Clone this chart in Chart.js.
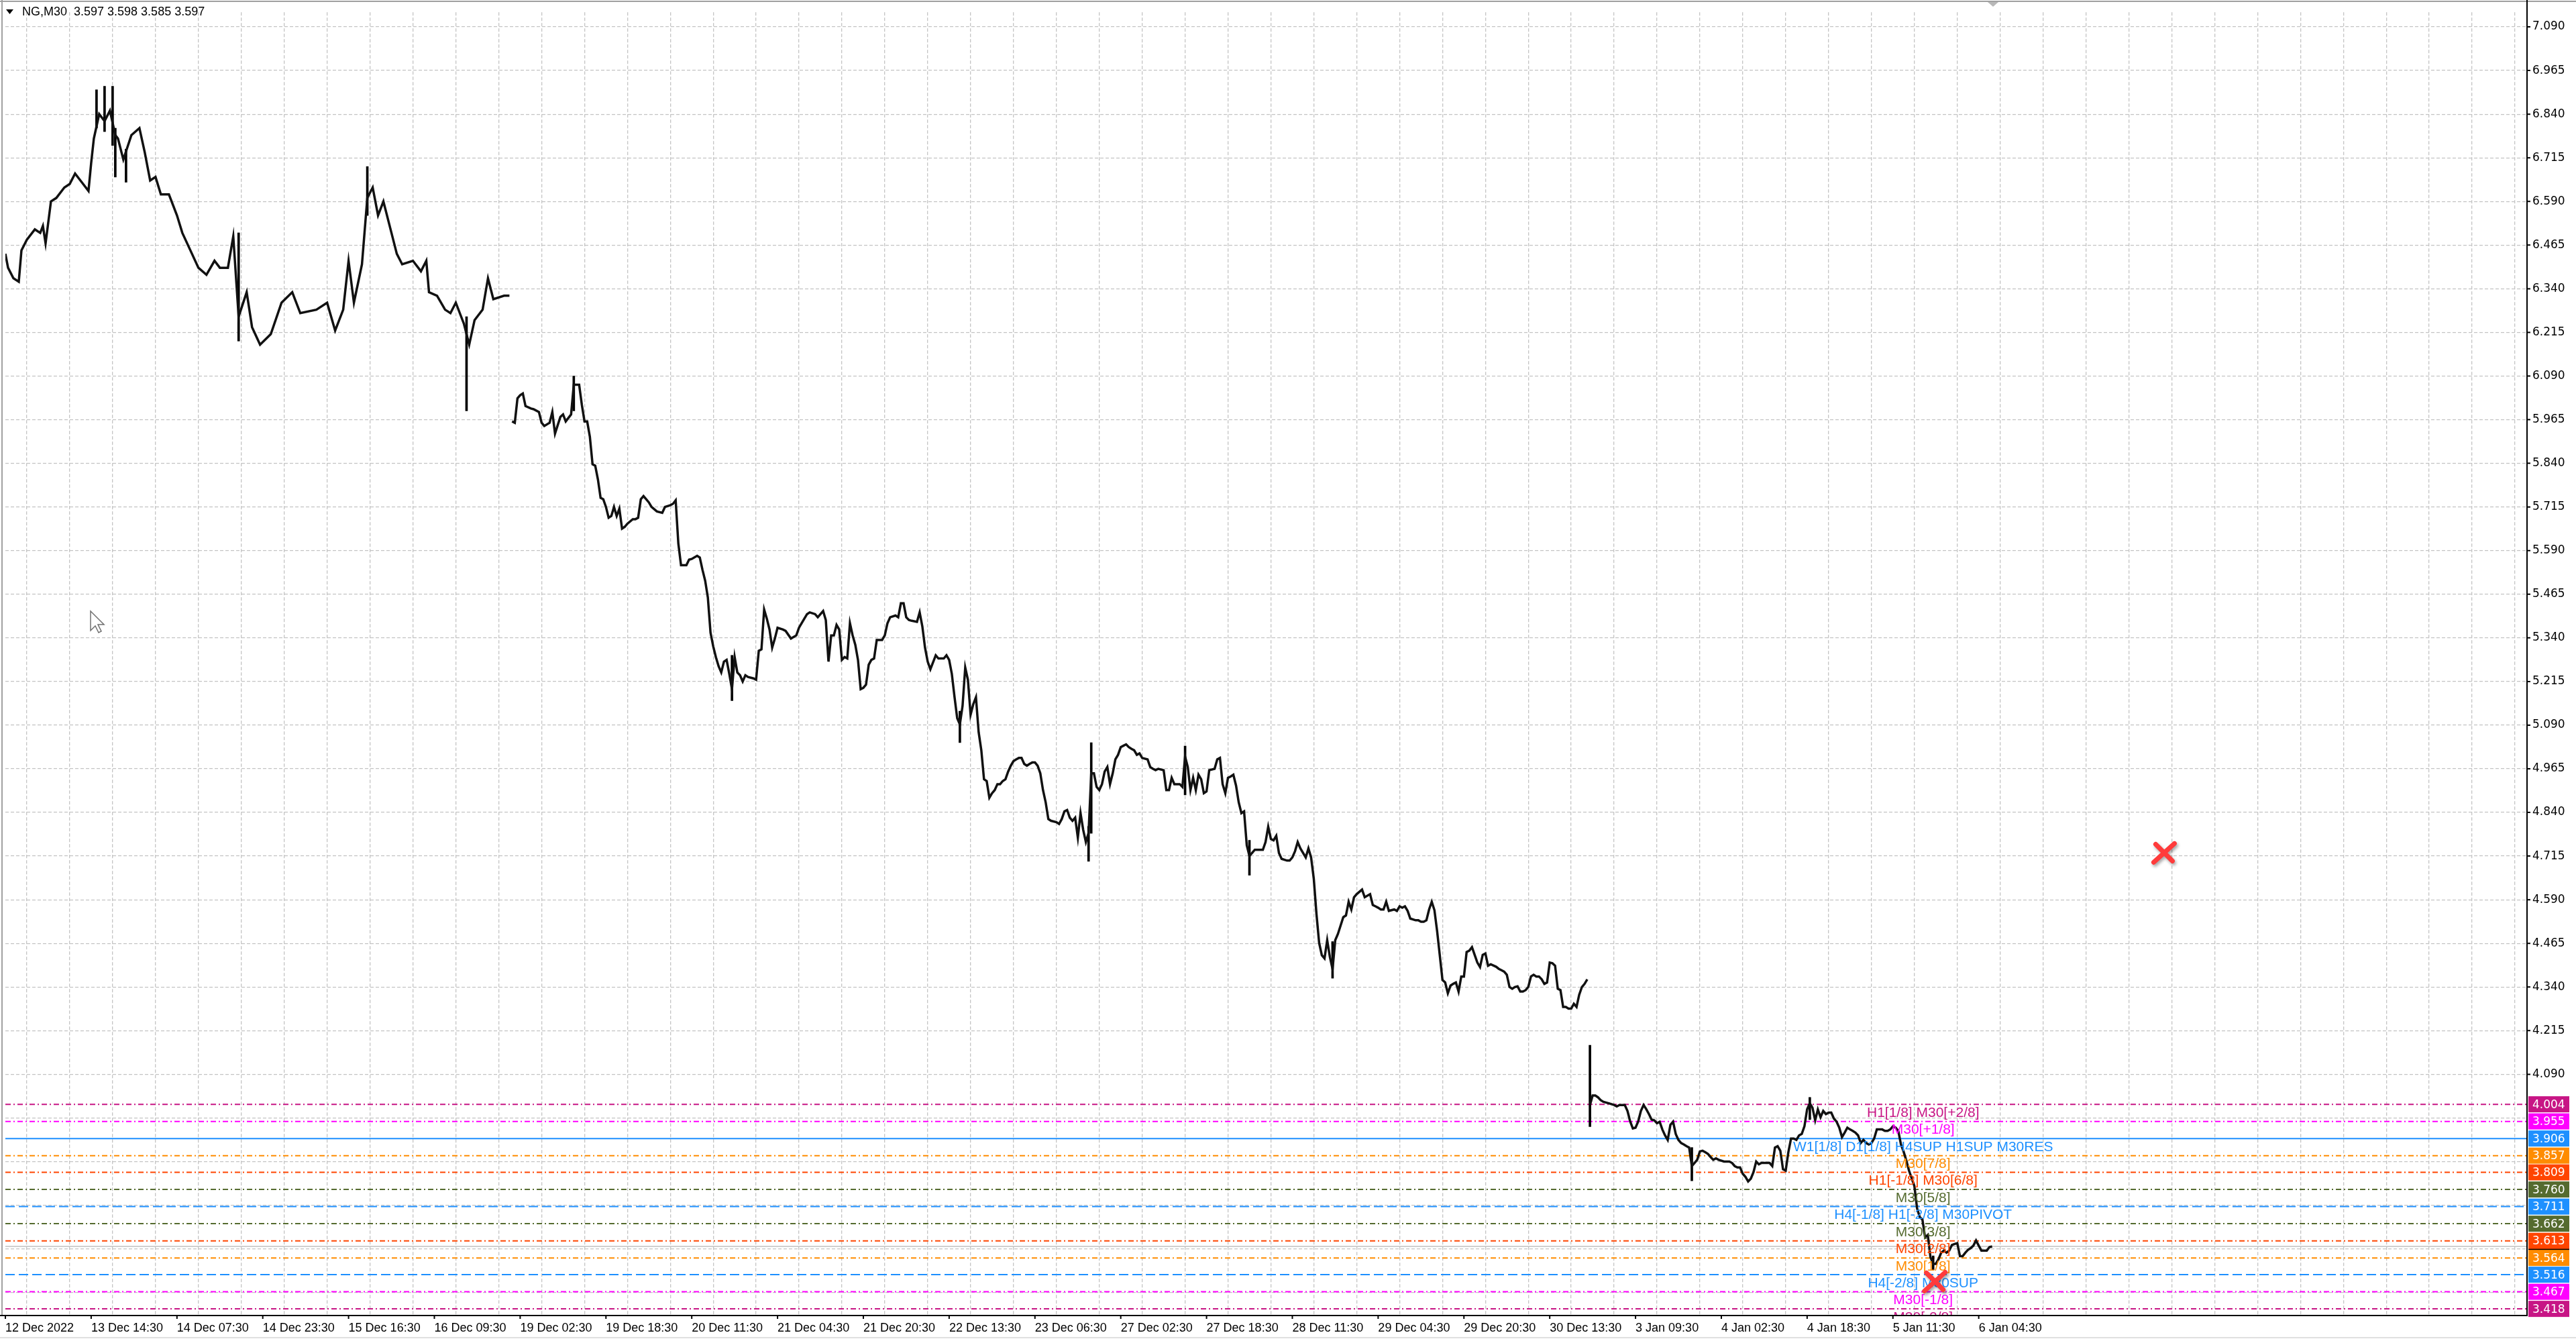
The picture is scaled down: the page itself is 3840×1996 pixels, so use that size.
<!DOCTYPE html>
<html>
<head>
<meta charset="utf-8">
<title>NG,M30</title>
<script src="https://cdn.jsdelivr.net/npm/chart.js@4.4.1/dist/chart.umd.min.js"></script>
<style>
  html, body { margin: 0; padding: 0; background: #fff; }
  canvas { display: block; }
</style>
</head>
<body>
<canvas id="chart" width="3840" height="1996"></canvas>
<script>
// header of the chart window: symbol and OHLC of the last bar
const symbolName = 'NG,M30';
const lastOHLC = [3.597, 3.598, 3.585, 3.597];

// time axis, one label every 32 bars
const timeLabels = [
  '12 Dec 2022', '13 Dec 14:30', '14 Dec 07:30', '14 Dec 23:30', '15 Dec 16:30', '16 Dec 09:30',
  '19 Dec 02:30', '19 Dec 18:30', '20 Dec 11:30', '21 Dec 04:30', '21 Dec 20:30', '22 Dec 13:30',
  '23 Dec 06:30', '27 Dec 02:30', '27 Dec 18:30', '28 Dec 11:30', '29 Dec 04:30', '29 Dec 20:30',
  '30 Dec 13:30', '3 Jan 09:30', '4 Jan 02:30', '4 Jan 18:30', '5 Jan 11:30', '6 Jan 04:30'
];

// price axis
const priceTicks = [7.090, 6.965, 6.840, 6.715, 6.590, 6.465, 6.340, 6.215, 6.090, 5.965, 5.840, 5.715,
  5.590, 5.465, 5.340, 5.215, 5.090, 4.965, 4.840, 4.715, 4.590, 4.465, 4.340, 4.215, 4.090];
const hiddenTicks = [3.965, 3.840, 3.715, 3.590, 3.465];

// closes: [bar number, price]
const week1 = [
  [0,6.44],[1,6.40],[3,6.37],[5,6.36],[6,6.45],[8,6.48],[11,6.51],[13,6.50],[14,6.52],[15,6.47],
  [17,6.59],[19,6.60],[22,6.63],[24,6.64],[26,6.67],[29,6.64],[31,6.62],[32,6.70],[33,6.77],[35,6.84],
  [37,6.82],[39,6.85],[41,6.78],[42,6.77],[44,6.71],[47,6.78],[50,6.80],[52,6.73],[54,6.65],[56,6.66],
  [58,6.61],[61,6.61],[64,6.55],[66,6.50],[69,6.45],[72,6.40],[75,6.38],[78,6.42],[80,6.40],[83,6.40],
  [85,6.49],[87,6.26],[90,6.33],[92,6.23],[95,6.18],[99,6.21],[103,6.30],[107,6.33],[110,6.27],[116,6.28],
  [120,6.30],[123,6.22],[126,6.28],[128,6.42],[130,6.30],[133,6.41],[135,6.60],[137,6.63],[139,6.55],[141,6.59],
  [144,6.50],[146,6.44],[148,6.41],[152,6.42],[155,6.39],[157,6.42],[158,6.33],[161,6.32],[164,6.28],[166,6.27],
  [168,6.30],[171,6.24],[173,6.18],[175,6.25],[178,6.28],[180,6.37],[182,6.31],[186,6.32],[188,6.32]
];

const week2 = [
  [189,5.96],[190,5.956],[191,6.026],[192,6.035],[193,6.04],[194,6.004],[196,5.997],[197,5.995],[199,5.987],[200,5.956],
  [201,5.947],[203,5.956],[204,5.987],[205,5.925],[207,5.973],[208,5.98],[209,5.96],[211,5.98],[212,6.065],[214,6.065],
  [215,6.008],[216,5.96],[217,5.96],[218,5.916],[219,5.837],[220,5.833],[221,5.794],[222,5.741],[223,5.737],[224,5.715],
  [225,5.684],[226,5.689],[227,5.715],[228,5.689],[229,5.71],[230,5.653],[231,5.658],[232,5.667],[234,5.68],[235,5.68],
  [236,5.684],[237,5.737],[238,5.746],[239,5.737],[240,5.728],[241,5.715],[243,5.702],[245,5.698],[246,5.715],[248,5.72],
  [249,5.724],[250,5.734],[251,5.61],[252,5.548],[254,5.548],[255,5.564],[256,5.566],[258,5.575],[259,5.57],[260,5.535],
  [261,5.504],[262,5.456],[263,5.355],[264,5.316],[265,5.285],[266,5.259],[267,5.241],[268,5.272],[269,5.277],[270,5.237],
  [271,5.193],[272,5.285],[273,5.241],[274,5.233],[275,5.215],[276,5.233],[277,5.228],[279,5.224],[280,5.22],[281,5.303],
  [282,5.307],[283,5.421],[284,5.395],[285,5.364],[286,5.312],[287,5.338],[288,5.369],[290,5.364],[291,5.36],[293,5.338],
  [295,5.347],[296,5.369],[297,5.382],[298,5.395],[299,5.408],[300,5.413],[302,5.408],[303,5.399],[305,5.417],[306,5.391],
  [307,5.272],[308,5.347],[309,5.347],[310,5.377],[311,5.364],[312,5.277],[313,5.285],[314,5.281],[315,5.382],[316,5.347],
  [317,5.32],[318,5.277],[319,5.193],[320,5.197],[321,5.206],[322,5.263],[323,5.277],[324,5.281],[325,5.334],[327,5.334],
  [328,5.347],[329,5.382],[330,5.399],[332,5.404],[333,5.399],[334,5.439],[335,5.439],[336,5.399],[337,5.391],[338,5.389],
  [340,5.386],[341,5.413],[342,5.373],[343,5.312],[344,5.272],[345,5.25],[347,5.29],[348,5.281],[350,5.281],[351,5.29],
  [352,5.277],[353,5.237],[354,5.171],[355,5.11],[356,5.092],[357,5.145],[358,5.255],[359,5.22],[360,5.12],[361,5.15],
  [362,5.17],[363,5.07],[364,5.018],[365,4.935],[366,4.93],[367,4.882],[368,4.895],[369,4.904],[370,4.921],[371,4.921],
  [372,4.93],[373,4.935],[374,4.957],[375,4.974],[376,4.987],[377,4.992],[378,4.996],[379,4.996],[380,4.979],[381,4.974],
  [382,4.979],[383,4.983],[384,4.983],[385,4.974],[386,4.952],[387,4.904],[388,4.869],[389,4.821],[390,4.816],[392,4.812],
  [393,4.807],[394,4.821],[395,4.843],[396,4.847],[397,4.825],[398,4.816],[399,4.825],[400,4.768],[401,4.838],[402,4.79],
  [403,4.755],[404,4.781],[405,4.952],[406,4.952],[407,4.913],[408,4.904],[409,4.921],[410,4.957],[411,4.97],[412,4.921],
  [413,4.952],[414,4.992],[415,5.005],[416,5.027],[417,5.031],[418,5.035],[419,5.027],[420,5.022],[421,5.018],[422,5.005],
  [423,5.009],[424,4.996],[426,4.992],[427,4.97],[428,4.965],[429,4.961],[430,4.965],[432,4.961],[433,4.904],[434,4.904],
  [435,4.939],[436,4.921],[438,4.921],[439,4.913],[440,5.0],[441,4.97],[442,4.904],[443,4.939],[444,4.904],[445,4.948],
  [446,4.935],[447,4.895],[448,4.9],[449,4.961],[451,4.965],[452,4.992],[453,4.996],[454,4.921],[455,4.895],[456,4.939],
  [457,4.943],[458,4.948],[459,4.917],[460,4.869],[461,4.838],[462,4.843],[463,4.746],[464,4.715],[465,4.724],[466,4.733],
  [467,4.733],[469,4.733],[470,4.755],[471,4.799],[472,4.764],[473,4.76],[474,4.773],[475,4.724],[476,4.707],[478,4.702],
  [479,4.702],[480,4.711],[481,4.729],[482,4.755],[483,4.737],[485,4.711],[486,4.737],[487,4.711],[488,4.65],[489,4.549],
  [490,4.466],[491,4.431],[492,4.422],[493,4.474],[494,4.426],[495,4.391],[496,4.474],[497,4.492],[499,4.54],[500,4.545],
  [501,4.584],[502,4.562],[503,4.597],[504,4.606],[506,4.619],[507,4.597],[509,4.606],[510,4.575],[511,4.571],[512,4.567],
  [513,4.562],[514,4.562],[515,4.584],[516,4.558],[518,4.562],[519,4.558],[520,4.571],[521,4.567],[522,4.571],[523,4.558],
  [524,4.536],[526,4.531],[527,4.531],[528,4.527],[529,4.527],[530,4.531],[531,4.562],[532,4.584],[533,4.56],[534,4.50],
  [535,4.43],[536,4.36],[537,4.353],[538,4.322],[539,4.344],[540,4.349],[541,4.353],[542,4.327],[543,4.37],[544,4.37],
  [545,4.44],[546,4.444],[547,4.454],[548,4.432],[549,4.41],[550,4.397],[551,4.432],[552,4.436],[553,4.401],[554,4.405],
  [556,4.398],[557,4.392],[558,4.388],[559,4.384],[560,4.375],[561,4.34],[562,4.335],[563,4.34],[564,4.342],[565,4.327],
  [566,4.327],[567,4.331],[568,4.34],[569,4.37],[570,4.375],[571,4.37],[572,4.37],[573,4.362],[574,4.349],[575,4.353],
  [576,4.41],[577,4.408],[578,4.401],[579,4.335],[580,4.331],[581,4.283],[582,4.283],[583,4.278],[584,4.278],[585,4.292],
  [586,4.283],[587,4.318],[588,4.34],[589,4.349],[590,4.362]
];

const week3 = [
  [591,4.002],[592,4.029],[593,4.029],[594,4.024],[595,4.016],[596,4.011],[598,4.007],[600,4.002],[601,3.998],[602,4.002],
  [604,4.002],[605,3.985],[606,3.955],[607,3.935],[608,3.937],[609,3.955],[610,3.985],[611,4.002],[612,3.99],[613,3.976],
  [614,3.96],[615,3.958],[616,3.95],[617,3.954],[618,3.932],[619,3.915],[620,3.902],[621,3.945],[622,3.954],[623,3.919],
  [624,3.902],[625,3.893],[626,3.889],[627,3.884],[628,3.88],[629,3.827],[630,3.836],[631,3.845],[632,3.869],[633,3.871],
  [634,3.867],[635,3.862],[636,3.853],[637,3.845],[638,3.849],[639,3.845],[641,3.84],[642,3.84],[643,3.84],[644,3.836],
  [645,3.827],[646,3.823],[647,3.823],[648,3.805],[649,3.796],[650,3.783],[651,3.791],[652,3.81],[653,3.84],[654,3.832],
  [655,3.836],[657,3.836],[658,3.836],[659,3.827],[660,3.88],[661,3.884],[662,3.871],[663,3.818],[664,3.814],[665,3.867],
  [666,3.906],[667,3.906],[668,3.902],[669,3.915],[670,3.919],[671,3.941],[672,3.99],[673,4.007],[674,3.994],[675,3.958],
  [676,3.989],[677,3.967],[678,3.985],[679,3.976],[680,3.98],[681,3.98],[682,3.963],[683,3.954],[684,3.937],[685,3.91],
  [686,3.923],[687,3.937],[688,3.932],[689,3.928],[690,3.923],[691,3.915],[692,3.893],[693,3.902],[694,3.893],[695,3.889],
  [696,3.893],[697,3.906],[698,3.932],[700,3.932],[701,3.928],[702,3.928],[703,3.932],[704,3.941],[705,3.937],[706,3.928],
  [707,3.889],[708,3.868],[709,3.843],[710,3.814],[711,3.792],[712,3.77],[713,3.706],[714,3.681],[715,3.674],[716,3.623],
  [717,3.63],[718,3.566],[719,3.547],[720,3.547],[721,3.56],[722,3.579],[723,3.585],[724,3.579],[725,3.585],[726,3.601],
  [727,3.604],[728,3.606],[729,3.569],[730,3.569],[731,3.579],[732,3.587],[733,3.592],[734,3.599],[735,3.614],[736,3.599],
  [737,3.585],[738,3.585],[739,3.585],[740,3.595],[741,3.597]
];

// long wicks that stick out of the close line: [bar, low, high]
const wicks = [
  [34,6.80,6.91],[37,6.79,6.92],[40,6.75,6.92],[41,6.66,6.80],[45,6.645,6.74],[87,6.19,6.50],
  [135,6.55,6.69],[172,5.99,6.26],[212,5.99,6.09],[271,5.16,5.29],[356,5.04,5.13],[404,4.70,4.80],
  [405,4.78,5.04],[440,4.89,5.03],[464,4.66,4.76],[495,4.365,4.47],[591,3.94,4.173],[629,3.785,3.88],
  [673,3.96,4.024],[719,3.53,3.57]
];

// Murrey math levels drawn by the indicator
const levelPrices = [4.004, 3.955, 3.906, 3.857, 3.809, 3.760, 3.711, 3.662, 3.613, 3.564, 3.516, 3.467, 3.418];
const levelNames = [
  'H1[1/8] M30[+2/8]', 'M30[+1/8]', 'W1[1/8] D1[1/8] H4SUP H1SUP M30RES', 'M30[7/8]',
  'H1[-1/8] M30[6/8]', 'M30[5/8]', 'H4[-1/8] H1[-2/8] M30PIVOT', 'M30[3/8]', 'M30[2/8]',
  'M30[1/8]', 'H4[-2/8] M30SUP', 'M30[-1/8]', 'M30[-2/8]'
];
const currentPrice = 3.597;

// arrow objects (red crosses): bar, price
const markerBars = [805, 719.5];
const markerPrices = [4.724, 3.496];

// styles
const levelColors = ['#c71585', '#ff00ff', '#1e90ff', '#ff8c00', '#ff4500', '#556b2f', '#1e90ff',
  '#556b2f', '#ff4500', '#ff8c00', '#1e90ff', '#ff00ff', '#c71585'];
const levelKinds = ['dashdot', 'dashdot', 'solid', 'dashdot', 'dashdot', 'dashdot', 'dash',
  'dashdot', 'dashdot', 'dashdot', 'dash', 'dashdot', 'dashdot'];
const dashes = { solid: [], dash: [14, 6], dashdot: [8, 4, 2, 4] };
const labelBar = 715.25;
const lastBarSlot = 940.5;

function toPoints(list) {
  return list.map(function(p) { return { x: p[0], y: p[1] }; });
}

const closeData = toPoints(week1)
  .concat([{ x: 188.5, y: null }])
  .concat(toPoints(week2))
  .concat([{ x: 590.5, y: null }])
  .concat(toPoints(week3));

const datasets = [
  {
    type: 'line',
    data: closeData,
    borderColor: '#111',
    borderWidth: 3.5,
    pointRadius: 0,
    tension: 0,
    spanGaps: false,
    order: 0
  },
  {
    type: 'bar',
    data: wicks.map(function(w) { return { x: w[0], y: [w[1], w[2]] }; }),
    backgroundColor: '#000',
    barThickness: 3,
    order: 1
  },
  {
    type: 'line',
    data: [{ x: 0, y: currentPrice }, { x: lastBarSlot, y: currentPrice }],
    borderColor: '#c0c0c0',
    borderWidth: 1.5,
    pointRadius: 0,
    order: 3
  }
];

levelPrices.forEach(function(p, i) {
  datasets.push({
    type: 'line',
    data: [{ x: 0, y: p }, { x: lastBarSlot, y: p }],
    borderColor: levelColors[i],
    borderDash: dashes[levelKinds[i]],
    borderWidth: 2,
    pointRadius: 0,
    order: 2
  });
});

function drawCross(ctx, cx, cy) {
  ctx.save();
  ctx.shadowColor = 'rgba(0, 0, 0, 0.35)';
  ctx.shadowBlur = 4;
  ctx.shadowOffsetX = 2;
  ctx.shadowOffsetY = 3;
  ctx.strokeStyle = '#ff3b3b';
  ctx.lineWidth = 7;
  ctx.lineCap = 'round';
  ctx.beginPath();
  ctx.moveTo(cx - 12, cy - 13);
  ctx.lineTo(cx + 13, cy + 12);
  ctx.moveTo(cx + 16, cy - 14);
  ctx.lineTo(cx - 15, cy + 14);
  ctx.stroke();
  ctx.restore();
}

const overlay = {
  id: 'overlay',
  afterDatasetsDraw(chart) {
    const ctx = chart.ctx;
    const area = chart.chartArea;
    const xs = chart.scales.x;
    const ys = chart.scales.y;

    ctx.save();
    ctx.beginPath();
    ctx.rect(area.left, area.top, area.right - area.left, area.bottom - area.top);
    ctx.clip();

    // level names under each line
    ctx.font = '21px "Liberation Sans", Arial, sans-serif';
    ctx.textAlign = 'center';
    ctx.textBaseline = 'middle';
    const lx = xs.getPixelForValue(labelBar);
    levelPrices.forEach(function(p, i) {
      ctx.fillStyle = levelColors[i];
      ctx.fillText(levelNames[i], lx, ys.getPixelForValue(p) + 13);
    });

    markerBars.forEach(function(b, i) {
      drawCross(ctx, xs.getPixelForValue(b), ys.getPixelForValue(markerPrices[i]));
    });

    // mouse pointer left on the chart
    const px = 135, py = 911;
    ctx.beginPath();
    ctx.moveTo(px, py);
    ctx.lineTo(px, py + 29);
    ctx.lineTo(px + 7, py + 22);
    ctx.lineTo(px + 12, py + 32);
    ctx.lineTo(px + 16, py + 30);
    ctx.lineTo(px + 11, py + 20);
    ctx.lineTo(px + 20, py + 20);
    ctx.closePath();
    ctx.fillStyle = '#fff';
    ctx.fill();
    ctx.strokeStyle = '#707070';
    ctx.lineWidth = 1.5;
    ctx.stroke();
    ctx.restore();
  },
  afterDraw(chart) {
    const ctx = chart.ctx;
    const area = chart.chartArea;
    const xs = chart.scales.x;
    const ys = chart.scales.y;

    ctx.save();
    // window frame
    ctx.strokeStyle = '#a0a0a0';
    ctx.lineWidth = 2;
    ctx.beginPath();
    ctx.moveTo(0, 2); ctx.lineTo(3840, 2);
    ctx.moveTo(3, 0); ctx.lineTo(3, area.bottom);
    ctx.stroke();
    ctx.strokeStyle = '#e0e0e0';
    ctx.beginPath();
    ctx.moveTo(0, 1994); ctx.lineTo(3840, 1994);
    ctx.stroke();

    // axis lines
    ctx.strokeStyle = '#000';
    ctx.lineWidth = 2;
    ctx.beginPath();
    ctx.moveTo(area.right, 0); ctx.lineTo(area.right, area.bottom + 1);
    ctx.moveTo(0, area.bottom); ctx.lineTo(area.right, area.bottom);
    // tick marks
    priceTicks.forEach(function(v) {
      const y = ys.getPixelForValue(v);
      ctx.moveTo(area.right, y); ctx.lineTo(area.right + 5, y);
    });
    timeLabels.forEach(function(t, k) {
      const x = xs.getPixelForValue(k * 32);
      ctx.moveTo(x, area.bottom); ctx.lineTo(x, area.bottom + 5);
    });
    ctx.stroke();

    // chart shift marker
    ctx.fillStyle = '#b8b8b8';
    ctx.beginPath();
    ctx.moveTo(2963, 3); ctx.lineTo(2979, 3); ctx.lineTo(2971, 10);
    ctx.closePath();
    ctx.fill();

    // price boxes on the axis
    const bx = area.right + 2, bw = 61, bh = 24;
    ctx.font = '17px "DejaVu Sans", sans-serif';
    ctx.textAlign = 'left';
    ctx.textBaseline = 'middle';
    const cy = ys.getPixelForValue(currentPrice);
    ctx.fillStyle = '#000';
    ctx.fillRect(bx, cy - bh / 2, bw, bh);
    levelPrices.forEach(function(p, i) {
      const y = ys.getPixelForValue(p);
      ctx.fillStyle = levelColors[i];
      ctx.fillRect(bx, y - bh / 2, bw, bh);
      ctx.fillStyle = '#fff';
      ctx.fillText(p.toFixed(3), bx + 6, y + 1);
    });

    // symbol header
    ctx.fillStyle = '#000';
    ctx.beginPath();
    ctx.moveTo(9, 14); ctx.lineTo(20, 14); ctx.lineTo(14.5, 21);
    ctx.closePath();
    ctx.fill();
    ctx.font = '18px "Liberation Sans", Arial, sans-serif';
    ctx.textAlign = 'left';
    ctx.fillText(symbolName + '  ' + lastOHLC.map(function(v) { return v.toFixed(3); }).join(' '), 33, 18);
    ctx.restore();
  }
};

const ctx = document.getElementById('chart').getContext('2d');
const chart = new Chart(ctx, {
  type: 'line',
  data: { datasets: datasets },
  plugins: [overlay],
  options: {
    responsive: false,
    animation: false,
    devicePixelRatio: 1,
    layout: { padding: { left: 5, top: 5, right: 0, bottom: 0 } },
    plugins: {
      legend: { display: false },
      tooltip: { enabled: false }
    },
    scales: {
      x: {
        type: 'linear',
        min: 0,
        max: lastBarSlot,
        offset: false,
        afterFit: function(scale) { scale.height = 35; },
        afterBuildTicks: function(scale) {
          const list = [];
          for (let b = 0; b <= lastBarSlot; b += 16) list.push({ value: b });
          scale.ticks = list;
        },
        ticks: {
          autoSkip: false,
          maxRotation: 0,
          minRotation: 0,
          align: 'start',
          padding: 8,
          color: '#000',
          font: { family: 'Liberation Sans', size: 18 },
          callback: function(value) {
            if (value % 32 !== 0) return '';
            return timeLabels[value / 32] || '';
          }
        },
        grid: { color: '#c4c4c4', lineWidth: 1.3, drawTicks: false },
        border: { display: false, dash: [5, 3] }
      },
      y: {
        type: 'linear',
        position: 'right',
        min: 3.399,
        max: 7.132,
        afterFit: function(scale) { scale.width = 73; },
        afterBuildTicks: function(scale) {
          scale.ticks = priceTicks.concat(hiddenTicks).map(function(v) { return { value: v }; });
        },
        ticks: {
          autoSkip: false,
          padding: 8,
          color: '#000',
          font: { family: 'DejaVu Sans', size: 17 },
          callback: function(value) {
            return priceTicks.indexOf(value) >= 0 ? value.toFixed(3) : '';
          }
        },
        grid: { color: '#c4c4c4', lineWidth: 1.3, drawTicks: false },
        border: { display: false, dash: [5, 3] }
      }
    }
  }
});
</script>
</body>
</html>
